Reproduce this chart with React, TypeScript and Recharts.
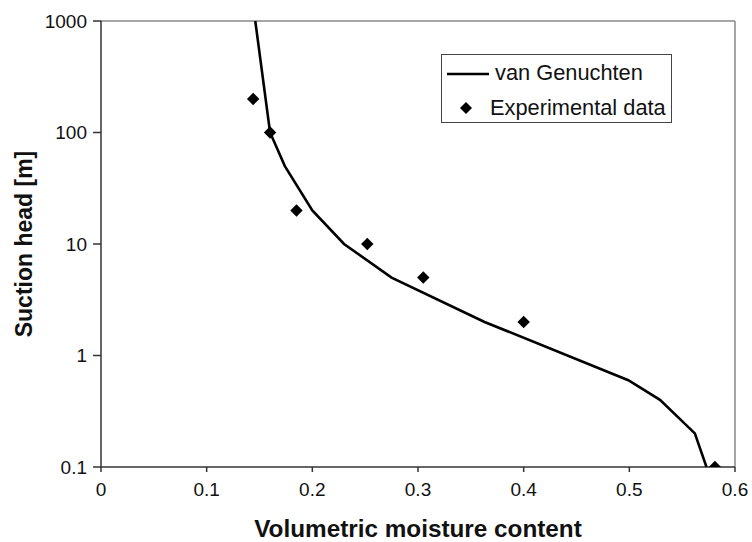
import {
  ScatterChart,
  Scatter,
  XAxis,
  YAxis,
  ReferenceLine,
} from 'recharts';

// van Genuchten fitted curve (volumetric moisture content vs suction head)
const vgTheta = [0.146, 0.16, 0.174, 0.2, 0.23, 0.275, 0.363, 0.499, 0.529, 0.562, 0.573];
const vgHead = [1000, 100, 50, 20, 10, 5, 2, 0.6, 0.4, 0.2, 0.1];

// measured points
const expTheta = [0.144, 0.16, 0.185, 0.252, 0.305, 0.4, 0.581];
const expHead = [200, 100, 20, 10, 5, 2, 0.1];

const xTicks = [0, 0.1, 0.2, 0.3, 0.4, 0.5, 0.6];
const yTicks = [0.1, 1, 10, 100, 1000];

const FONT = '"Liberation Sans", Arial, sans-serif';
const AXIS = '#333';

const vgData = vgTheta.map((t, i) => ({ theta: t, head: vgHead[i] }));
const expData = expTheta.map((t, i) => ({ theta: t, head: expHead[i] }));

const Diamond = (props: any) => {
  const { cx, cy } = props;
  if (cx == null || cy == null) return <g />;
  const r = 6.2;
  return <polygon points={`${cx},${cy - r} ${cx + r},${cy} ${cx},${cy + r} ${cx - r},${cy}`} fill="#000" />;
};

const NoDot = () => <g />;

const tickStyle = { fill: '#111', fontSize: 19, fontFamily: FONT };

export default function App() {
  return (
    <div style={{ position: 'absolute', left: 0, top: 0, width: 752, height: 542, background: '#fff' }}>
      <ScatterChart width={752} height={542} margin={{ top: 21, right: 17, left: 0, bottom: 0 }}>
        <XAxis
          type="number"
          dataKey="theta"
          domain={[0, 0.6]}
          ticks={xTicks}
          height={75}
          tickSize={5}
          tickMargin={11}
          stroke={AXIS}
          axisLine={{ stroke: AXIS, strokeWidth: 1.5 }}
          tickLine={{ stroke: AXIS, strokeWidth: 1.5 }}
          tick={tickStyle}
          label={{
            value: 'Volumetric moisture content',
            position: 'insideBottom',
            offset: 5,
            style: { fontSize: 24.3, fontWeight: 'bold', fontFamily: FONT, fill: '#111' },
          }}
        />
        <YAxis
          type="number"
          dataKey="head"
          scale="log"
          domain={[0.1, 1000]}
          allowDataOverflow
          ticks={yTicks}
          width={101}
          tickSize={8}
          tickMargin={6}
          stroke={AXIS}
          axisLine={{ stroke: AXIS, strokeWidth: 1.5 }}
          tickLine={{ stroke: AXIS, strokeWidth: 1.5 }}
          tick={tickStyle}
          label={{
            value: 'Suction head [m]',
            angle: -90,
            position: 'insideLeft',
            offset: 24,
            style: { fontSize: 23, fontWeight: 'bold', fontFamily: FONT, fill: '#111', textAnchor: 'middle' },
          }}
        />
        <ReferenceLine y={1000} stroke="#888" strokeWidth={1.5} />
        <ReferenceLine x={0.6} stroke="#888" strokeWidth={1.5} />
        <Scatter
          name="van Genuchten"
          data={vgData}
          line={{ stroke: '#000', strokeWidth: 2.6 }}
          lineType="joint"
          shape={NoDot}
          isAnimationActive={false}
        />
        <Scatter name="Experimental data" data={expData} shape={Diamond} isAnimationActive={false} />
      </ScatterChart>

      {/* legend box */}
      <div
        style={{
          position: 'absolute',
          left: 441,
          top: 54,
          width: 231,
          height: 69,
          border: '1px solid #444',
          fontFamily: FONT,
          fontSize: 21.8,
          color: '#111',
          boxSizing: 'border-box',
        }}
      >
        <svg style={{ position: 'absolute', left: 5, top: 17 }} width={42} height={4}>
          <line x1={0} y1={2} x2={42} y2={2} stroke="#000" strokeWidth={2.6} />
        </svg>
        <span style={{ position: 'absolute', left: 53, top: 6, lineHeight: '24px', whiteSpace: 'nowrap' }}>
          van Genuchten
        </span>
        <svg style={{ position: 'absolute', left: 17, top: 46 }} width={14} height={14}>
          <polygon points="7,1 13,7 7,13 1,7" fill="#000" />
        </svg>
        <span style={{ position: 'absolute', left: 48, top: 41, lineHeight: '24px', whiteSpace: 'nowrap' }}>
          Experimental data
        </span>
      </div>
    </div>
  );
}
